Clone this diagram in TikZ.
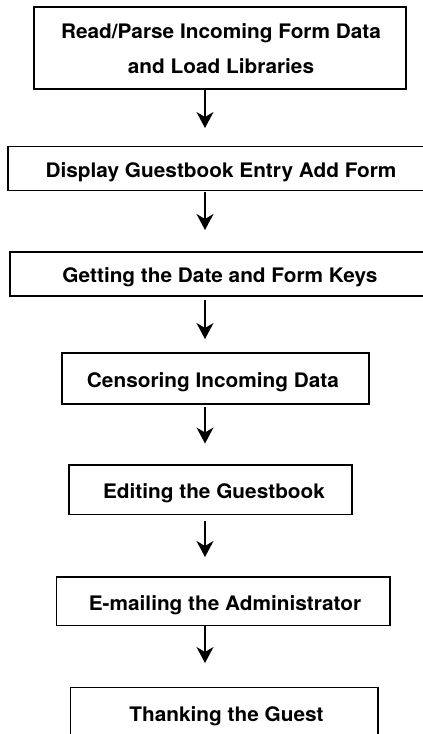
\documentclass[tikz,border=0pt]{standalone}
\usepackage{fontspec}
\setmainfont{TeX Gyre Heros}[FakeStretch=1.04]
\usetikzlibrary{arrows.meta}
\tikzset{
  stepbox/.style={draw=black, line width=1.2pt, inner sep=0pt, rectangle},
  steptext/.style={anchor=base, inner sep=0pt, font=\fontsize{20}{24}\selectfont\bfseries, text=black},
  flow/.style={draw=black, line width=1.2pt, -{Stealth[length=16pt,width=17pt,inset=5pt]}}
}
\begin{document}
\begin{tikzpicture}[x=1pt,y=-1pt]
\useasboundingbox (0,0) rectangle (423,734);
\clip (0,0) rectangle (423,734);
% boxes
\node[stepbox, minimum width=372pt, minimum height=82pt] (b1) at (220,48) {};
\node[stepbox, minimum width=440pt, minimum height=44pt] (b2) at (228,168.5) {};
\node[stepbox, minimum width=440pt, minimum height=44pt] (b3) at (230,274) {};
\node[stepbox, minimum width=307pt, minimum height=51pt] (b4) at (215.5,378.5) {};
\node[stepbox, minimum width=283pt, minimum height=49.5pt] (b5) at (210.5,489.75) {};
\node[stepbox, minimum width=333.5pt, minimum height=48.5pt] (b6) at (223.25,601.25) {};
\node[stepbox, minimum width=307.5pt, minimum height=72pt] (b7) at (224.25,723.5) {};
% texts
\node[steptext] (t1a) at (221,38.5) {Read/Parse Incoming Form Data};
\node[steptext] (t1b) at (221,73.5) {and Load Libraries};
\node[steptext] (t2) at (221,177.5) {Display Guestbook Entry Add Form};
\node[steptext] (t3) at (220,282.5) {Getting the Date and Form Keys};
\node[steptext] (t4) at (213,387.5) {Censoring Incoming Data};
\node[steptext] (t5) at (214,498.5) {Editing the Guestbook};
\node[steptext] (t6) at (225,610) {E-mailing the Administrator};
\node[steptext] (t7) at (226.5,721.5) {Thanking the Guest};
% arrow end points
\coordinate (e1) at (205,128);
\coordinate (e2) at (205,230);
\coordinate (e3) at (205,339);
\coordinate (e4) at (205,443.5);
\coordinate (e5) at (205,557);
\coordinate (e6) at (205,663);
\draw[flow] (b1.south -| e1) -- (e1);
\draw[flow, shorten <=0.5pt] (b2.south -| e2) -- (e2);
\draw[flow, shorten <=3pt] (b3.south -| e3) -- (e3);
\draw[flow, shorten <=2.5pt] (b4.south -| e4) -- (e4);
\draw[flow, shorten <=6pt] (b5.south -| e5) -- (e5);
\draw[flow] (b6.south -| e6) -- (e6);
\end{tikzpicture}
\end{document}
